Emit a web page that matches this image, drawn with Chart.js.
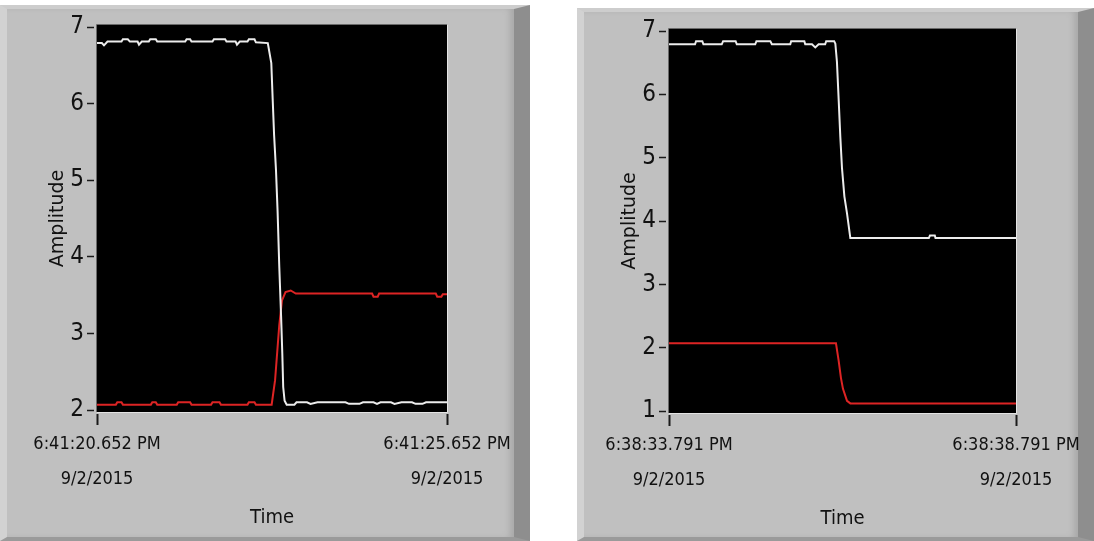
<!DOCTYPE html>
<html>
<head>
<meta charset="utf-8">
<script src="https://cdn.jsdelivr.net/npm/chart.js@4.4.1/dist/chart.umd.min.js"></script>
<style>
  body { margin:0; background:#fff; width:1094px; height:541px; overflow:hidden; position:relative; }
  .panel { position:absolute; box-sizing:border-box; background:#c0c0c0;
           border-left:7px solid #d2d2d2; border-top:4px solid #cdcdcd;
           border-right:16px solid #8e8e8e; border-bottom:4px solid #9a9a9a;
           box-shadow: inset -6px 0 6px -2px #a8a8a8; }
  #p1 { left:0; top:5px; width:530px; height:536px; }
  #p2 { left:577px; top:8px; width:517px; height:533px; }
  canvas { position:absolute; top:0; }
  #c1 { left:0; }
  #c2 { left:570px; }
</style>
</head>
<body>
<div class="panel" id="p1"></div>
<div class="panel" id="p2"></div>
<canvas id="c1" width="540" height="541"></canvas>
<canvas id="c2" width="524" height="541"></canvas>
<script>
// left graph (6:41:20.652 PM), time in seconds from start
var leftWhiteT = [0, 0.07, 0.10, 0.15, 0.35, 0.37, 0.44, 0.47, 0.58, 0.60, 0.64, 0.74, 0.76, 0.84, 0.86, 1.26, 1.28, 1.33, 1.35, 1.65, 1.67, 1.83, 1.85, 1.98, 2.00, 2.04, 2.15, 2.17, 2.25, 2.27, 2.44, 2.49, 2.51, 2.53, 2.557, 2.58, 2.604, 2.63, 2.647, 2.66, 2.68, 2.71, 2.82, 2.85, 3.00, 3.05, 3.15, 3.55, 3.60, 3.75, 3.80, 3.95, 4.00, 4.05, 4.20, 4.25, 4.35, 4.50, 4.55, 4.65, 4.70, 5.00];
var leftWhiteV = [6.79, 6.79, 6.76, 6.81, 6.81, 6.84, 6.84, 6.81, 6.81, 6.77, 6.81, 6.81, 6.84, 6.84, 6.81, 6.81, 6.84, 6.84, 6.81, 6.81, 6.84, 6.84, 6.81, 6.81, 6.77, 6.81, 6.81, 6.84, 6.84, 6.80, 6.79, 6.53, 6.05, 5.59, 5.13, 4.59, 3.87, 3.22, 2.74, 2.30, 2.12, 2.07, 2.07, 2.10, 2.10, 2.08, 2.10, 2.10, 2.08, 2.08, 2.10, 2.10, 2.08, 2.10, 2.10, 2.08, 2.10, 2.10, 2.08, 2.08, 2.10, 2.10];
var leftRedT = [0, 0.27, 0.29, 0.35, 0.37, 0.77, 0.79, 0.84, 0.86, 1.14, 1.16, 1.33, 1.35, 1.63, 1.65, 1.75, 1.77, 2.15, 2.17, 2.25, 2.27, 2.495, 2.544, 2.604, 2.643, 2.693, 2.767, 2.84, 3.93, 3.95, 4.01, 4.03, 4.84, 4.86, 4.92, 4.94, 5.00];
var leftRedV = [2.07, 2.07, 2.10, 2.10, 2.07, 2.07, 2.10, 2.10, 2.07, 2.07, 2.10, 2.10, 2.07, 2.07, 2.10, 2.10, 2.07, 2.07, 2.10, 2.10, 2.07, 2.07, 2.39, 3.11, 3.43, 3.54, 3.56, 3.52, 3.52, 3.48, 3.48, 3.52, 3.52, 3.48, 3.48, 3.51, 3.51];

// right graph (6:38:33.791 PM)
var rightWhiteT = [0, 0.375, 0.39, 0.48, 0.496, 0.76, 0.78, 0.96, 0.977, 1.242, 1.26, 1.46, 1.482, 1.747, 1.76, 1.95, 1.963, 2.06, 2.108, 2.156, 2.25, 2.265, 2.38, 2.397, 2.42, 2.445, 2.469, 2.493, 2.527, 2.565, 2.613, 3.744, 3.76, 3.83, 3.84, 5.00];
var rightWhiteV = [6.79, 6.79, 6.84, 6.84, 6.79, 6.79, 6.84, 6.84, 6.79, 6.79, 6.84, 6.84, 6.79, 6.79, 6.84, 6.84, 6.79, 6.79, 6.74, 6.79, 6.79, 6.84, 6.84, 6.80, 6.51, 5.91, 5.32, 4.83, 4.39, 4.12, 3.73, 3.73, 3.77, 3.77, 3.73, 3.73];
var rightRedT = [0, 2.406, 2.445, 2.478, 2.507, 2.565, 2.613, 5.00];
var rightRedV = [2.07, 2.07, 1.79, 1.52, 1.35, 1.16, 1.12, 1.12];

var leftTicks = [["6:41:20.652 PM", "9/2/2015"], ["6:41:25.652 PM", "9/2/2015"]];
var rightTicks = [["6:38:33.791 PM", "9/2/2015"], ["6:38:38.791 PM", "9/2/2015"]];

var narrow = "'Liberation Sans Narrow', 'DejaVu Sans Condensed', 'Liberation Sans', sans-serif";

function pts(t, v) {
  var out = [];
  for (var i = 0; i < t.length; i++) out.push({x: t[i], y: v[i]});
  return out;
}

// black plot area with a thin sunken frame
var plotBg = {
  id: 'plotBg',
  beforeDraw: function(chart) {
    var a = chart.chartArea, ctx = chart.ctx;
    ctx.save();
    ctx.fillStyle = '#000';
    ctx.fillRect(a.left, a.top - 2, a.right - a.left, a.bottom - a.top + 4);
    ctx.strokeStyle = '#6a6a6a';
    ctx.lineWidth = 1;
    ctx.beginPath();
    ctx.moveTo(a.left - 0.5, a.bottom + 2);
    ctx.lineTo(a.left - 0.5, a.top - 2.5);
    ctx.lineTo(a.right, a.top - 2.5);
    ctx.stroke();
    ctx.strokeStyle = '#e4e4e4';
    ctx.beginPath();
    ctx.moveTo(a.right + 0.5, a.top - 2);
    ctx.lineTo(a.right + 0.5, a.bottom + 2.5);
    ctx.lineTo(a.left, a.bottom + 2.5);
    ctx.stroke();
    ctx.restore();
  }
};

function makeGraph(id, white, red, ticks, ymin, cfg) {
  return new Chart(document.getElementById(id), {
    type: 'line',
    data: {
      datasets: [
        { data: white, borderColor: '#ececec', borderWidth: 2, pointRadius: 0, tension: 0 },
        { data: red, borderColor: '#dd2424', borderWidth: 2, pointRadius: 0, tension: 0 }
      ]
    },
    options: {
      responsive: false,
      animation: false,
      events: [],
      layout: { padding: { top: cfg.top, right: cfg.right, bottom: 0, left: 0 } },
      plugins: { legend: { display: false }, tooltip: { enabled: false } },
      scales: {
        x: {
          type: 'linear', min: 0, max: 5,
          afterFit: function(s) { s.height = cfg.xh; },
          border: { display: false },
          grid: { drawOnChartArea: false, color: '#1a1a1a', tickLength: 15, tickWidth: 2, tickBorderDash: [0.01, 4, 11, 100] },
          ticks: {
            stepSize: 5, maxRotation: 0, autoSkip: false, padding: cfg.xpad, color: '#111',
            font: { family: narrow, size: 18, lineHeight: 1.95 },
            callback: function(v) { return v === 0 ? ticks[0] : ticks[1]; }
          },
          title: { display: true, text: 'Time', color: '#111', font: { family: narrow, size: 20 }, padding: { top: 0, bottom: cfg.tpad } }
        },
        y: {
          min: ymin, max: 7,
          afterFit: function(s) { s.width = cfg.yw; },
          border: { display: false },
          grid: { drawOnChartArea: false, color: '#1a1a1a', tickLength: 10, tickWidth: 1.5, tickBorderDash: [7, 100] },
          ticks: { stepSize: 1, padding: 3, color: '#111', font: { family: narrow, size: 24 } },
          title: { display: true, text: 'Amplitude', color: '#111', font: { family: 'DejaVu Sans', size: 19 }, padding: { top: cfg.ypad, bottom: 0 } }
        }
      }
    },
    plugins: [plotBg]
  });
}

makeGraph('c1', pts(leftWhiteT, leftWhiteV), pts(leftRedT, leftRedV), leftTicks, 2,
  { top: 27, right: 93, xh: 131, yw: 97, xpad: 2, tpad: 11, ypad: 47 });
makeGraph('c2', pts(rightWhiteT, rightWhiteV), pts(rightRedT, rightRedV), rightTicks, 1,
  { top: 31, right: 78, xh: 130, yw: 99, xpad: 2, tpad: 10, ypad: 49 });
</script>
</body>
</html>
